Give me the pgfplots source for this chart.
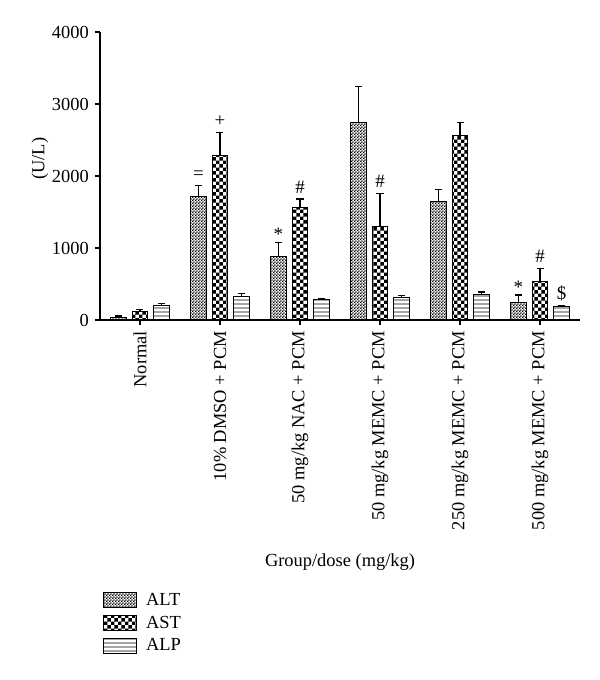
\documentclass[border=0pt]{standalone}
\usepackage{fontspec}
\setmainfont{Liberation Serif}
\usepackage{pgfplots}
\usepackage{pgfplotstable}
\pgfplotsset{compat=1.18}
\usetikzlibrary{patterns}

\pgfdeclarepatternformonly{finecheck}{\pgfpointorigin}{\pgfqpoint{2.8pt}{2.8pt}}{\pgfqpoint{2.8pt}{2.8pt}}{%
 \pgfpathrectangle{\pgfpointorigin}{\pgfqpoint{1.4pt}{1.4pt}}%
 \pgfpathrectangle{\pgfqpoint{1.4pt}{1.4pt}}{\pgfqpoint{1.4pt}{1.4pt}}%
 \pgfusepath{fill}}
\pgfdeclarepatternformonly{bigcheck}{\pgfpointorigin}{\pgfqpoint{7pt}{7pt}}{\pgfqpoint{7pt}{7pt}}{%
 \pgfpathrectangle{\pgfpointorigin}{\pgfqpoint{3.5pt}{3.5pt}}%
 \pgfpathrectangle{\pgfqpoint{3.5pt}{3.5pt}}{\pgfqpoint{3.5pt}{3.5pt}}%
 \pgfusepath{fill}}
\pgfdeclarepatternformonly{hlines}{\pgfpointorigin}{\pgfqpoint{10pt}{4pt}}{\pgfqpoint{10pt}{4pt}}{%
 \pgfsetlinewidth{0.9pt}%
 \pgfpathmoveto{\pgfqpoint{0pt}{2pt}}\pgfpathlineto{\pgfqpoint{10pt}{2pt}}%
 \pgfusepath{stroke}}

% bar positions: group index -0.269 (ALT), 0 (AST), +0.269 (ALP)
\pgfplotstableread{
x y err
-0.269 30 25
0.731 1713 152
1.731 880 199
2.731 2741 500
3.731 1644 171
4.731 241 106
}\ALT
\pgfplotstableread{
x y err
0 125 25
1 2278 328
2 1569 111
3 1296 463
4 2569 172
5 532 186
}\AST
\pgfplotstableread{
x y err
0.269 195 35
1.269 333 37
2.269 287 5
3.269 315 28
4.269 356 33
5.269 194 10
}\ALP
\pgfplotstableread{
x y lab
0.731 1865 eq
1.0 2606 plus
1.731 1020 star
2.0 1680 hash
3.0 1759 hash
4.731 290 star
5.0 718 hash
5.269 204 dollar
}\ANN

\def\labeq{=}
\def\labplus{+}
\def\labstar{*}
\def\labhash{\#}
\def\labdollar{\$}

\pgfplotsset{
 mybar/.style={ybar, bar width=15.5bp, bar shift=0pt, draw=black, line width=1pt,
   legend image code/.code={\draw[##1, line width=1pt] (0bp,-7.5bp) rectangle (33bp,7.5bp); \path (40bp,0bp);},
   error bars/y dir=plus, error bars/y explicit,
   error bars/error bar style={line width=1.2pt, black},
   error bars/error mark options={rotate=90, mark size=3.5bp, line width=1.2pt, black}},
}

\begin{document}
\begin{tikzpicture}
\useasboundingbox (-100bp,-360bp) rectangle (500bp,320bp);
\begin{axis}[
 at={(0,0)}, anchor=south west,
 scale only axis, width=480bp, height=288bp,
 xmin=-0.5, xmax=5.5, ymin=0, ymax=4000,
 axis lines*=left,
 axis line style={line width=1.2pt},
 tick style={line width=1.2pt, black},
 tick align=outside, major tick length=5bp,
 xtick={0,1,2,3,4,5},
 xticklabels={Normal, 10\% DMSO + PCM, 50 mg/kg NAC + PCM, 50 mg/kg MEMC + PCM, 250 mg/kg MEMC + PCM, 500 mg/kg MEMC + PCM},
 xticklabel style={rotate=90, anchor=east, inner xsep=6bp},
 ytick={0,1000,2000,3000,4000},
 yticklabel style={inner xsep=6bp},
 scaled y ticks=false,
 yticklabel style={/pgf/number format/1000 sep={}},
 /pgf/number format/assume math mode=true,
 font=\fontsize{18.5}{21}\selectfont,
 ylabel={(U/L)},
 ylabel style={at={(axis description cs:-0.125,0.56)}, anchor=center},
 xlabel={Group/dose (mg/kg)},
 xlabel style={at={(axis description cs:0.5,-0.84)}, anchor=center},
 legend style={at={(axis description cs:0,-0.935)}, anchor=north west, draw=none, fill=none,
   row sep=5bp, font=\fontsize{18.5}{21}\selectfont},
 legend cell align=left,
 clip=false,
]
\addplot[mybar, pattern=finecheck] table[x=x, y=y, y error=err] {\ALT};
\addlegendentry{ALT}
\addplot[mybar, pattern=bigcheck] table[x=x, y=y, y error=err] {\AST};
\addlegendentry{AST}
\addplot[mybar, pattern=hlines] table[x=x, y=y, y error=err] {\ALP};
\addlegendentry{ALP}
\addplot[forget plot, only marks, mark=none, point meta=explicit symbolic,
  nodes near coords={\csname lab\pgfplotspointmeta\endcsname},
  nodes near coords style={anchor=base, yshift=6bp, inner sep=0pt, font=\fontsize{19}{21}\selectfont}]
  table[x=x, y=y, meta=lab] {\ANN};
\end{axis}
\end{tikzpicture}
\end{document}
